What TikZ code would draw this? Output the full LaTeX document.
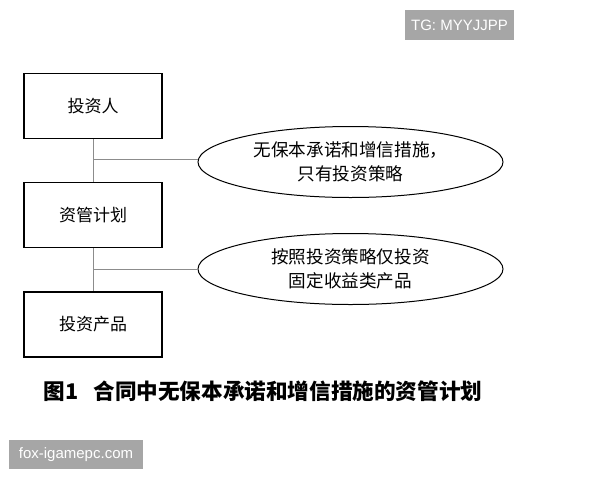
\documentclass[tikz,border=0pt]{standalone}
\usepackage{fontspec}
\usepackage{tikz}
\usetikzlibrary{shapes.geometric}
\setmainfont{Liberation Sans}
\newfontfamily\cjk{Noto Sans CJK SC}

\begin{document}
\begin{tikzpicture}[x=1pt,y=-1pt,
                    thin,main node/.style={rectangle,draw,line width=1.6pt,minimum width=138pt,minimum height=65pt,font=\cjk\fontsize{17}{20}\selectfont},
                    note node/.style={ellipse,draw,line width=1pt,minimum width=305pt,minimum height=71pt,inner sep=0pt,align=center,font=\cjk\fontsize{17.6}{24}\selectfont},
                    mark box/.style={fill=black!35,text=white,inner sep=0pt,font=\fontsize{15}{18}\selectfont}]
  \useasboundingbox (0,0) rectangle (600,480);
  \node[main node] (1) at (93,106) {投资人};
  \node[main node] (2) at (93,215) {资管计划};
  \node[main node] (3) at (93,324.5) {投资产品};
  \node[note node] (n1) at (350.5,162) {无保本承诺和增信措施，\\只有投资策略};
  \node[note node] (n2) at (350.5,269) {按照投资策略仅投资\\固定收益类产品};
  \coordinate (j1) at (93,159);
  \coordinate (j2) at (93,269);

  \path[draw=black!45,line width=0.8pt]
    (1) edge (2)
    (2) edge (3)
    (j1) edge (j1 -| n1.west)
    (j2) edge (n2);

  \node (cap) at (263,391) {\cjk\bfseries\fontsize{21.6}{24}\selectfont 图1\hspace{15pt}合同中无保本承诺和增信措施的资管计划};
  \node[mark box,minimum width=109pt,minimum height=30pt] (tg) at (459.5,25) {TG: MYYJJPP};
  \node[mark box,minimum width=134pt,minimum height=29pt] (site) at (76,454.5) {fox-igamepc.com};
\end{tikzpicture}
\end{document}
